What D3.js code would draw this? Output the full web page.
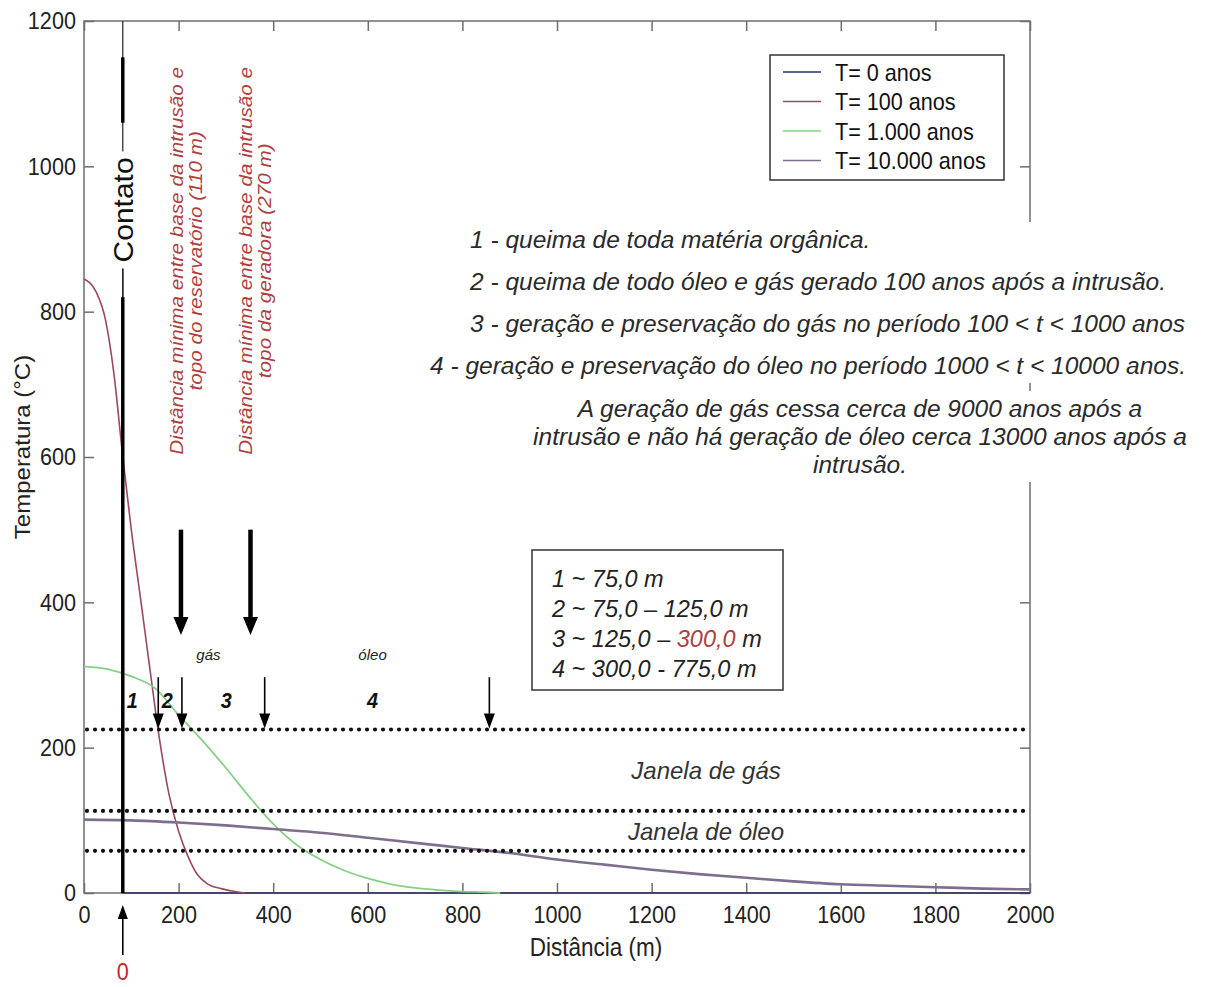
<!DOCTYPE html>
<html>
<head>
<meta charset="utf-8">
<script src="https://cdn.jsdelivr.net/npm/d3@7"></script>
<style>
  body { margin: 0; background: #fff; }
  text { font-family: "Liberation Sans", Arial, sans-serif; }
</style>
</head>
<body>
<div class="chart"></div>
<script>
const w = 1220;
const h = 987;

// ---- data ----
const legendNames = ["T= 0 anos", "T= 100 anos", "T= 1.000 anos", "T= 10.000 anos"];

// distance (m) / temperature (°C) for every time step
const t0Dist = [82, 82, 2000];
const t0Temp = [1000, 0, 0];
const t100Dist = [0, 25, 45, 63, 82, 100, 120, 140, 160, 180, 200, 220, 240, 260, 290, 320, 340];
const t100Temp = [845, 828, 790, 716, 600, 500, 403, 305, 210, 135, 85, 50, 25, 13, 6, 2, 0];
const t1000Dist = [0, 50, 100, 150, 200, 250, 300, 350, 400, 450, 500, 550, 600, 650, 700, 750, 800, 850, 880];
const t1000Temp = [312, 308, 298, 282, 245, 210, 172, 132, 95, 66, 46, 31, 20, 12, 7, 4, 2, 1, 0];
const t10000Dist = [0, 100, 200, 300, 400, 500, 600, 700, 800, 900, 1000, 1100, 1200, 1300, 1400, 1500, 1600, 1700, 1800, 1900, 2000];
const t10000Temp = [101, 100, 97, 93, 88, 83, 76, 69, 62, 55, 46, 39, 32, 26, 21, 16, 12, 10, 8, 6, 5];

const xTicks = [0, 200, 400, 600, 800, 1000, 1200, 1400, 1600, 1800, 2000];
const yTicks = [0, 200, 400, 600, 800, 1000, 1200];

// gas / oil window limits (°C)
const windowTemps = [225, 113, 58];
const windowLabels = ["Janela de gás", "Janela de óleo"];

// contact and zones (m)
const contactDist = 82;
const zoneEdges = [75, 125, 300, 775]; // distance after the contact
const zoneNames = ["1", "2", "3", "4"];
const zoneLabelDist = [102, 176, 301, 610];
const fluidNames = ["gás", "óleo"];
const fluidLabelDist = [263, 610];
const bigArrowDist = [205, 352];
const bigArrowNotes = [
  ["Distância mínima entre base da intrusão e", "topo do reservatório (110 m)"],
  ["Distância mínima entre base da intrusão e", "topo da geradora (270 m)"]
];

const notes = [
  "1 - queima de toda matéria orgânica.",
  "2 - queima de todo óleo e gás gerado 100 anos após a intrusão.",
  "3 - geração e preservação do gás no período 100 < t < 1000 anos",
  "4 - geração e preservação do óleo no período 1000 < t < 10000 anos."
];
const paragraph = [
  "A geração de gás cessa cerca de 9000 anos após a",
  "intrusão e não há geração de óleo cerca 13000 anos após a",
  "intrusão."
];
// middle piece of a split line is highlighted
const rangeLines = [
  ["1 ~ 75,0 m"],
  ["2 ~ 75,0 – 125,0 m"],
  ["3 ~ 125,0 – ", "300,0", " m"],
  ["4 ~ 300,0 - 775,0 m"]
];

// ---- drawing ----
const svg = d3.select(".chart").append("svg").attr("width", w).attr("height", h);

const x = d3.scaleLinear().domain([0, 2000]).range([84, 1030]);
const y = d3.scaleLinear().domain([0, 1200]).range([893, 21]);

const axisColor = "#6e6e6e";
const sx = 0.9; // the original figure is a bit squeezed sideways

function txt(parent, px, py, str, o = {}) {
  const g = parent.append("g")
    .attr("transform", `translate(${px},${py}) scale(${o.sx || 1},1)${o.rot ? ` rotate(${o.rot})` : ""}`);
  return g.append("text")
    .attr("font-size", o.size || 20)
    .attr("text-anchor", o.anchor || "start")
    .attr("fill", o.fill || "#222")
    .attr("font-style", o.italic ? "italic" : null)
    .attr("font-weight", o.bold ? "bold" : null)
    .text(str);
}

function whiteBehind(g, pad) {
  const b = g.node().getBBox();
  g.insert("rect", ":first-child")
    .attr("x", b.x - pad).attr("y", b.y - pad)
    .attr("width", b.width + 2 * pad).attr("height", b.height + 2 * pad)
    .attr("fill", "#fff");
}

// frame
svg.append("rect")
  .attr("x", x(0)).attr("y", y(1200))
  .attr("width", x(2000) - x(0)).attr("height", y(0) - y(1200))
  .attr("fill", "none").attr("stroke", axisColor).attr("stroke-width", 1.5);

// axes with inward ticks
const styleAxis = (g) => {
  g.select(".domain").remove();
  g.selectAll(".tick line").attr("stroke", axisColor).attr("stroke-width", 1.5);
  g.selectAll(".tick text").attr("fill", "#222").attr("font-size", 24)
    .attr("font-family", '"Liberation Sans", Arial, sans-serif');
};

svg.append("g").attr("transform", `translate(0,${y(0)})`)
  .call(d3.axisBottom(x).tickValues(xTicks).tickFormat(d3.format("d"))
    .tickSizeInner(-10).tickSizeOuter(0).tickPadding(13))
  .call(styleAxis)
  .selectAll(".tick text").attr("transform", `scale(${sx},1)`);

svg.append("g").attr("transform", `translate(${x(0)},0)`)
  .call(d3.axisLeft(y).tickValues(yTicks).tickFormat(d3.format("d"))
    .tickSizeInner(-10).tickSizeOuter(0).tickPadding(9))
  .call(styleAxis)
  .selectAll(".tick text").attr("transform", `scale(${sx},1)`);

svg.append("g").attr("transform", `translate(0,${y(1200)})`)
  .call(d3.axisTop(x).tickValues(xTicks).tickSizeInner(-10).tickSizeOuter(0).tickFormat(""))
  .call(styleAxis);

svg.append("g").attr("transform", `translate(${x(2000)},0)`)
  .call(d3.axisRight(y).tickValues(yTicks).tickSizeInner(-10).tickSizeOuter(0).tickFormat(""))
  .call(styleAxis);

// axis titles
txt(svg, 596, 956, "Distância (m)", { size: 25, anchor: "middle", sx: sx });
txt(svg, 30, (y(0) + y(1200)) / 2 - 10, "Temperatura (°C)", { size: 24, anchor: "middle", sx: sx, rot: -90 });

// curves
const series = [
  { name: legendNames[0], pts: d3.zip(t0Dist, t0Temp), color: "#2e2e5e", width: 1.5, curve: d3.curveLinear },
  { name: legendNames[1], pts: d3.zip(t100Dist, t100Temp), color: "#9a4a5c", width: 1.6, curve: d3.curveMonotoneX },
  { name: legendNames[2], pts: d3.zip(t1000Dist, t1000Temp), color: "#86d086", width: 1.8, curve: d3.curveMonotoneX },
  { name: legendNames[3], pts: d3.zip(t10000Dist, t10000Temp), color: "#7c6e8c", width: 2.6, curve: d3.curveMonotoneX }
];

series.forEach((s) => {
  svg.append("path")
    .datum(s.pts)
    .attr("fill", "none")
    .attr("stroke", s.color)
    .attr("stroke-width", s.width)
    .attr("d", d3.line().x((d) => x(d[0])).y((d) => y(d[1])).curve(s.curve));
});

// window lines (dotted)
svg.selectAll(".window")
  .data(windowTemps)
  .enter()
  .append("line")
  .attr("class", "window")
  .attr("x1", x(0) + 3).attr("x2", x(2000))
  .attr("y1", (d) => y(d)).attr("y2", (d) => y(d))
  .attr("stroke", "#111")
  .attr("stroke-width", 4.2)
  .attr("stroke-linecap", "round")
  .attr("stroke-dasharray", "0 8");

windowLabels.forEach((lab, i) => {
  const mid = (windowTemps[i] + windowTemps[i + 1]) / 2;
  txt(svg, 706, y(mid) + 9, lab, { size: 24, anchor: "middle", italic: true, fill: "#333" });
});

// contact line
const cx = x(contactDist);
svg.append("line").attr("x1", cx).attr("x2", cx).attr("y1", y(1200)).attr("y2", y(0))
  .attr("stroke", "#222").attr("stroke-width", 1.2);
const contato = svg.append("g");
txt(contato, cx + 10, y(940), "Contato", { size: 30, anchor: "middle", sx: sx, rot: -90, fill: "#111" });
whiteBehind(contato, 6);
[[1150, 1060], [820, 0]].forEach((seg) => {
  svg.append("line").attr("x1", cx).attr("x2", cx).attr("y1", y(seg[0])).attr("y2", y(seg[1]))
    .attr("stroke", "#000").attr("stroke-width", 3.5);
});

// arrows
function arrow(px, yFrom, yTo, shaft, headW, headL) {
  const dir = yTo > yFrom ? 1 : -1;
  svg.append("line")
    .attr("x1", px).attr("x2", px)
    .attr("y1", yFrom).attr("y2", yTo - dir * (headL - 2))
    .attr("stroke", "#000").attr("stroke-width", shaft);
  svg.append("path")
    .attr("d", `M${px - headW},${yTo - dir * headL} L${px + headW},${yTo - dir * headL} L${px},${yTo} Z`)
    .attr("fill", "#000");
}

bigArrowDist.forEach((d) => arrow(x(d), y(500), y(355), 4.5, 7.5, 18));
zoneEdges.forEach((d) => arrow(x(contactDist + d), y(297), y(windowTemps[0]) - 1, 1.6, 5.5, 15));
arrow(cx, 955, 905, 1.6, 5, 14);
txt(svg, cx, 980, "0", { size: 24, anchor: "middle", fill: "#c0282d", sx: sx });

// vertical red notes
bigArrowNotes.forEach((lines, i) => {
  lines.forEach((str, j) => {
    txt(svg, x(bigArrowDist[i]) + 2 + j * 19, y(870), str,
      { size: 20.7, anchor: "middle", italic: true, fill: "#b0403f", sx: sx, rot: -90 });
  });
});

// zone numbers and fluid names
zoneNames.forEach((n, i) => {
  txt(svg, x(zoneLabelDist[i]), y(255), n, { size: 22, anchor: "middle", italic: true, bold: true, fill: "#111", sx: sx });
});
fluidNames.forEach((n, i) => {
  txt(svg, x(fluidLabelDist[i]), y(320), n, { size: 15, anchor: "middle", italic: true, fill: "#222" });
});

// range box
const box = svg.append("g");
box.append("rect").attr("x", 532).attr("y", 550).attr("width", 251).attr("height", 140)
  .attr("fill", "#fff").attr("stroke", "#333").attr("stroke-width", 1.5);
rangeLines.forEach((parts, i) => {
  const t = box.append("text").attr("x", 552).attr("y", 587 + i * 30)
    .attr("font-size", 23.5).attr("font-style", "italic").attr("fill", "#222");
  parts.forEach((p, k) => {
    t.append("tspan").attr("fill", k === 1 ? "#b0403f" : "#222").text(p);
  });
});

// explanatory notes (white background hides the right frame)
const noteG = svg.append("g");
notes.forEach((str, i) => {
  txt(noteG, i === 3 ? 430 : 470, 248 + i * 42, str, { size: 24.5, italic: true, fill: "#2a2a2a" });
});
whiteBehind(noteG, 4);

const parG = svg.append("g");
paragraph.forEach((str, i) => {
  txt(parG, 860, 417 + i * 28, str, { size: 24.5, anchor: "middle", italic: true, fill: "#2a2a2a" });
});
whiteBehind(parG, 4);

// legend
const legend = svg.append("g").attr("id", "legend");
legend.append("rect").attr("x", 770).attr("y", 55).attr("width", 234).attr("height", 125)
  .attr("fill", "#fff").attr("stroke", "#333").attr("stroke-width", 1.5);
series.forEach((s, i) => {
  const ly = 72 + i * 29.5;
  legend.append("line").attr("x1", 783).attr("x2", 821).attr("y1", ly).attr("y2", ly)
    .attr("stroke", s.color).attr("stroke-width", 1.6);
  txt(legend, 835, ly + 8.5, s.name, { size: 24, sx: sx, fill: "#111" });
});
</script>
</body>
</html>
